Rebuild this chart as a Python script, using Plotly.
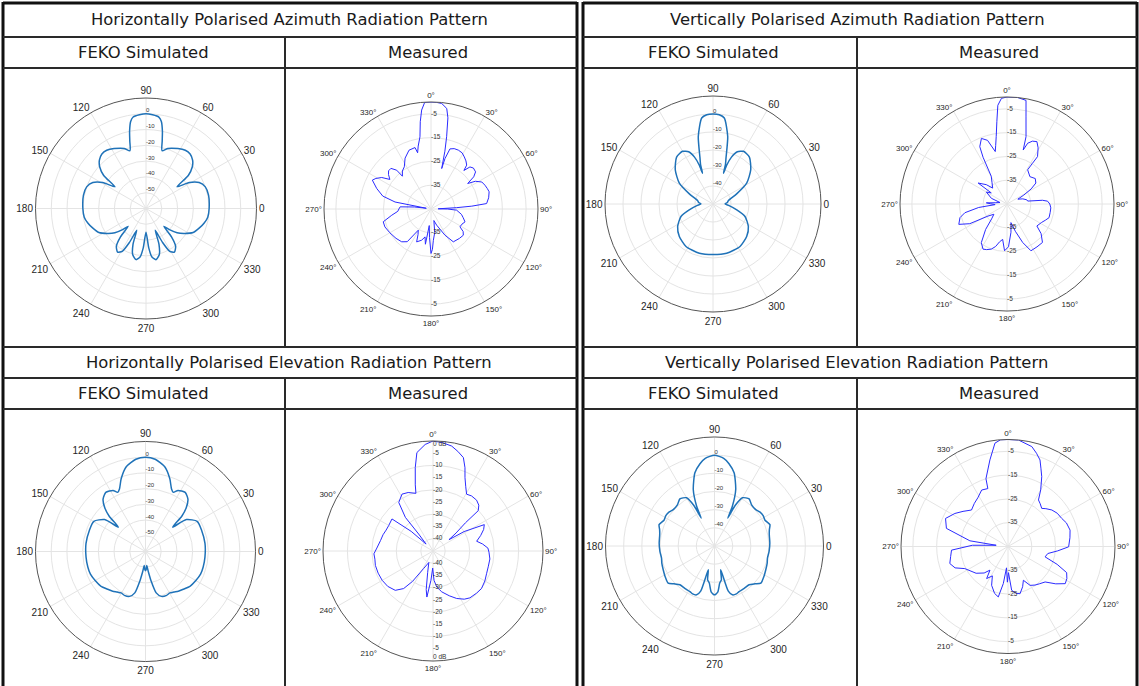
import plotly.graph_objects as go

W, H = 1139, 686

# ---------------- data (angles in degrees, levels in dB) ----------------
# FEKO simulated plots: standard orientation (0 deg at right, counter-clockwise)
feko_h_az_theta = [-90, -86, -83, -79, -74, -70, -67, -64, -61, -57, -52, -48, -45, -42, -38, -33, -27, -20, -14, -8,
                   0, 12, 20, 26, 31, 35, 38, 42, 46, 51, 56, 62, 70, 74.5, 76.5, 78, 80, 82, 86, 90,
                   94, 98, 100, 102, 103.5, 105.5, 110, 118, 124, 129, 134, 138, 142, 145, 149, 154, 160, 168,
                   180, 188, 194, 200, 207, 213, 218, 222, 225, 228, 232, 237, 241, 244, 247, 250, 254, 259, 263, 266, 270]
feko_h_az_db = [-45, -35, -29, -27, -29.5, -36, -45, -36, -29, -27, -29.5, -36, -44, -40, -35, -31, -26.5, -24, -22, -20.5,
                -20, -19.5, -20, -22.5, -28, -36, -26, -20.5, -17.5, -15.6, -15.5, -17, -19.5, -22, -16, -10, -4, -1.5, -0.5, 0,
                -0.5, -1.5, -4, -10, -16, -22, -19.5, -17, -15.5, -15.6, -17.5, -20.5, -26, -36, -28, -22.5, -20, -19.5,
                -20, -20.5, -22, -24, -26.5, -31, -35, -40, -44, -36, -29.5, -27, -29, -36, -45, -36, -29.5, -27, -29, -35, -45]

feko_v_az_theta = [-90, -74.5, -57.6, -44, -32.5, -21.3, -13.8, -6, 0, 6, 12.9, 23.2, 31.7, 42.2, 52.2, 60, 65, 68.5,
                   70.5, 71.2, 72.5, 74.2, 77.7, 82.5, 86, 90,
                   94, 97.5, 102.3, 105.8, 107.5, 108.8, 109.5, 111.5, 115, 120, 127.8, 137.8, 148.3, 156.8, 167.1,
                   174, 180, 186, 193.8, 201.3, 212.5, 224, 237.6, 254.5, 270]
feko_v_az_db = [-21.9, -21.6, -22, -24, -26.7, -30.9, -36.4, -41, -43.3, -42, -41.2, -35.7, -28, -21.7, -17, -16.2, -18, -22,
                -27, -32, -27, -23.5, -11.6, -1.8, -0.3, 0,
                -0.3, -1.8, -11.6, -23.5, -27, -32, -27, -22, -18, -16.2, -17, -21.7, -28, -35.7, -41.2,
                -42, -43.3, -41, -36.4, -30.9, -26.7, -24, -22, -21.6, -21.9]

feko_h_el_theta = [-90, -88, -85, -82, -79.2, -75.5, -70.5, -65, -59.5, -55, -50.4, -45, -37.7, -30, -22.4, -15, -5.4,
                   7.7, 21.1, 30.3, 38, 42, 44.2, 47, 51, 56.1, 62, 64.8, 67.4, 71.5, 77.2, 84, 90,
                   96, 102.8, 108.5, 112.6, 115.2, 118, 123.9, 129, 133, 135.8, 138, 142, 149.7, 158.9, 172.3,
                   185.4, 195, 202.4, 210, 217.7, 225, 230.4, 235, 239.5, 245, 250.5, 255.5, 259.2, 262, 265, 268, 270]
feko_h_el_db = [-47.7, -48.5, -51, -47, -40.9, -32.8, -29.7, -29, -29.4, -28.5, -27.2, -26, -24, -23, -22.1, -22, -22,
                -21.8, -21.8, -21.9, -27, -36.8, -27.8, -22, -17.1, -14.7, -16, -18.4, -16.9, -11.2, -4.7, -1, 0,
                -1, -4.7, -11.2, -16.9, -18.4, -16, -14.7, -17.1, -22, -27.8, -36.8, -27, -21.9, -21.8, -21.8,
                -22, -22, -22.1, -23, -24, -26, -27.2, -28.5, -29.4, -29, -29.7, -32.8, -40.9, -47, -51, -48.5, -47.7]

feko_v_el_theta = [-90, -86, -82, -78.5, -75.4, -73, -69.9, -65.5, -61.6, -55, -48.3, -43, -38.7, -32, -24.8, -18, -12.8,
                   -5.6, 3.1, 11.7, 16.5, 21.1, 27, 32, 37, 41.4, 48, 53.7, 59.9, 63, 64.5, 65.8, 69.4, 75, 80, 84, 90,
                   96, 100, 105, 110.6, 114.2, 115.5, 117, 120.1, 126.3, 132, 138.6, 143, 148, 153, 158.9, 163.5,
                   168.3, 176.9, 185.6, 192.8, 198, 204.8, 212, 218.7, 223, 228.3, 235, 241.6, 245.5, 249.9, 253,
                   255.4, 258.5, 262, 266, 270]
feko_v_el_db = [-23.1, -24.5, -29.4, -31, -36.5, -24, -21.4, -21, -21.5, -21.5, -21.4, -19.5, -17.3, -18, -18.9, -19.5, -20.1,
                -19.8, -19.5, -19.2, -18.5, -17.3, -18.8, -18.4, -18.8, -19.7, -19.5, -17.8, -19.3, -25, -33, -26, -16.8, -8.3, -4, -1.5, 0,
                -1.5, -4, -8.3, -16.8, -26, -33, -25, -19.3, -17.8, -19.5, -19.7, -18.8, -18.4, -18.8, -17.3, -18.5,
                -19.2, -19.5, -19.8, -20.1, -19.5, -18.9, -18, -17.3, -19.5, -21.4, -21.5, -21.5, -21, -21.4, -24,
                -36.5, -31, -29.4, -24.5, -23.1]

# Measured plots: compass orientation (0 deg at top, clockwise)
meas_h_az_theta = [0, 3, 5.8, 8.9, 10.5, 12.2, 13.5, 14.8, 15.5, 17.5, 21, 24.9, 29, 32.6, 36, 39.1, 40.5, 42.8, 46, 50.2,
                   53, 55.2, 58, 62, 66.2, 70, 73.5, 79, 84.4, 86, 87, 88.5, 90, 92.6, 100, 105, 110.7, 116, 121.6, 125,
                   129, 136, 145.8, 151.9, 160.7, 166, 171, 175.7, 178, 180, 183, 186, 189, 192, 196.7, 203.6, 207,
                   211, 216, 221.8, 230, 240, 248.8, 255, 261, 266, 270, 274, 277, 279, 281, 285, 290.7, 296.2, 299,
                   302.6, 305.7, 309, 312, 315.4, 318.5, 318.9, 323, 327.7, 333, 339.5, 345.4, 346.6, 348.5, 351.3,
                   353, 354.6, 356.6, 360]
meas_h_az_db = [0, -0.1, -0.4, -2.2, -6, -13.9, -20, -27.4, -23, -18.5, -17.8, -17.7, -18, -19, -20, -21.2, -23.7, -20.9, -20.2, -20.6,
                -22.5, -26.2, -23, -20.8, -20.2, -19.8, -19.5, -20.3, -21.5, -27.8, -34.2, -42, -38, -34.2, -32, -31, -29.7, -30.5, -30.7, -28.5,
                -27.5, -27.8, -28.3, -32.5, -37.8, -40, -35, -31.8, -28, -26.3, -33, -38, -30, -33, -31.3, -29.9, -33,
                -34.6, -28, -26.5, -25.8, -25, -24.2, -24.2, -28.3, -31, -31.5, -32, -38, -43, -29.6, -24, -20.6, -17.5, -18.5,
                -20.4, -23.7, -22, -21, -21, -23.2, -26.7, -25, -24, -21, -18.6, -18.3, -20.7, -18, -14.3,
                -8, -3.2, -0.1, 0]

meas_v_az_theta = [0, 5.8, 10.4, 12.3, 15.8, 16.7, 18.8, 22, 25.6, 29, 32.8, 32, 31.1, 40, 48, 54, 58, 62, 66, 72, 78, 82,
                   84, 86, 90, 95, 101, 108, 113, 118, 126.3, 131, 137.3, 145, 152.9, 157.8, 163, 168, 172, 178, 183,
                   187, 191.1, 195, 199.2, 204, 208, 213.6, 220, 226, 232, 237.6, 242.1, 247.1, 253.8, 258.3, 263, 267,
                   271, 273.2, 276, 282, 290, 300, 305.2, 306, 313.1, 318, 325, 330.4, 332.9, 334.6, 338.7, 343, 347.4,
                   349, 350.9, 353, 354.7, 357, 360]
meas_v_az_db = [0, 0, -0.7, -7.5, -15.6, -21.3, -18, -16.5, -15.9, -18, -21.3, -25, -28.2, -30, -29, -30, -33, -37, -40, -38, -36.5, -36.2,
                -30, -27.9, -27, -26.5, -26.5, -26.4, -27.5, -28.5, -29.4, -26, -23, -23, -22.9, -27.5, -33, -37, -33, -27, -25.3,
                -30, -28.8, -26.5, -24.9, -24, -23.5, -25.5, -31, -36, -38, -35.5, -27.3, -23, -24.4, -26.9, -33, -40,
                -38, -36.3, -40, -42, -38, -35, -36.9, -30, -33.1, -36, -34, -31.6, -22.9, -18.3, -15.4, -17, -22.4,
                -20, -16.3, -10, -3.3, -0.5, 0]

meas_h_el_theta = [0, 5, 10.1, 14, 18, 21, 23.5, 27, 30.6, 35, 40.6, 45, 48.3, 49, 52, 54.7, 58, 62.8, 67, 72, 77.4, 82,
                   87, 91.2, 98, 106, 113, 120, 127.8, 134, 141.8, 147, 153.5, 160, 167.9, 174, 178, 181, 184, 187.6,
                   190, 194, 200, 208, 214, 218, 223.8, 232, 240, 248, 256, 262, 267.3, 273, 281.2, 288, 294, 299.8,
                   308, 312, 315, 319.8, 320.6, 324.8, 331.4, 337, 343.5, 345, 348, 350.7, 355.8, 360]
meas_h_el_db = [0, -0.5, -1.4, -3, -4.8, -8.5, -12.2, -15.5, -18, -17.5, -17.6, -18.5, -20.2, -27.4, -33, -37, -30, -21.4, -22.5, -24.5, -26.7, -24.5,
                -22.5, -22.1, -21.5, -21.5, -21.2, -20.5, -19.9, -20.2, -20.6, -21.5, -23.3, -25.5, -27.9, -30.2, -33, -38, -33, -26,
                -29, -36, -40, -37, -30, -25.5, -22.7, -21.5, -21, -20.8, -20.7, -21, -20.8, -22, -23.1, -23.5, -24, -24.1,
                -23.7, -33, -41, -35.9, -27.2, -20.7, -18.5, -19, -20.4, -17, -10.1, -4.2, -1.3, 0]

meas_v_el_theta = [0, 5.6, 13.4, 17, 20.3, 23, 25.8, 30, 33.2, 37, 41.5, 45, 50.2, 56, 62.4, 68, 75.2, 82, 90.3, 95, 100,
                   105.6, 110, 114, 118.6, 123, 128, 133.7, 140, 145, 150.4, 155.5, 160, 165.7, 170, 175.2, 179, 181,
                   184, 187.2, 190.9, 196, 202.9, 208, 213.7, 217.3, 222, 230, 242.9, 248, 253.7, 260, 266.3, 272, 276,
                   278.5, 286.4, 294.2, 301.9, 308, 315, 322, 328.2, 335, 340.8, 342, 348.2, 352.8, 356, 360]
meas_v_el_db = [0, 0, -1.8, -4, -6.2, -9.5, -12.4, -17.5, -21.6, -22.5, -23.6, -22.5, -21, -20, -19.5, -18.5, -18, -18.7, -19.5, -24, -28,
                -28.8, -23, -18, -16.8, -16.3, -19.5, -23.4, -24.5, -25.2, -26.2, -29.4, -27, -24.5, -25, -26.5, -34, -30,
                -36, -29.3, -23.4, -24.5, -27.3, -31, -28.8, -32.5, -30, -27.5, -24.6, -21, -19.5, -20.5, -21.2, -30, -40,
                -28.8, -18, -16.2, -18.7, -21, -23.3, -22, -20.9, -18.8, -19.2, -15, -7.8, -1.2, 0, 0]

# tick labels
feko60_ticks = [0, -10, -20, -30, -40, -50]
feko50_ticks = [0, -10, -20, -30, -40]
meas_ticks = [-5, -15, -25, -35]
meas_el_ticks = [0, -5, -10, -15, -20, -25, -30, -35, -40]
feko_angles = list(range(0, 360, 30))

# header texts
titles = ["Horizontally Polarised Azimuth Radiation Pattern", "Vertically Polarised Azimuth Radiation Pattern",
          "Horizontally Polarised Elevation Radiation Pattern", "Vertically Polarised Elevation Radiation Pattern"]
col_heads = ["FEKO Simulated", "Measured"]

# ---------------- figure ----------------
FEKO_BLUE = "#1f72b8"
MEAS_BLUE = "#2b2bff"
GRID = "#e4e4e4"
EDGE = "#555555"
LBL_FONT = "Liberation Sans, Arial, sans-serif"


def dom(cx, cy, rad):
    return dict(x=[(cx - rad) / W, (cx + rad) / W], y=[1 - (cy + rad) / H, 1 - (cy - rad) / H])


def feko_polar(cx, cy, rad, rng, ticks):
    return dict(
        domain=dom(cx, cy, rad), bgcolor="white",
        angularaxis=dict(rotation=0, direction="counterclockwise", tickvals=feko_angles,
                         ticktext=[str(a) for a in feko_angles], showline=True, linecolor=EDGE, linewidth=1,
                         gridcolor=GRID, gridwidth=1, ticks="",
                         tickfont=dict(family=LBL_FONT, size=10, color="#262626")),
        radialaxis=dict(range=rng, tickvals=ticks, showticklabels=False, showline=False, ticks="",
                        gridcolor=GRID, gridwidth=1),
    )


def meas_polar(cx, cy, rad, ticks):
    return dict(
        domain=dom(cx, cy, rad), bgcolor="white",
        angularaxis=dict(rotation=90, direction="clockwise", tickvals=feko_angles,
                         ticktext=[f"{a}\u00b0" for a in feko_angles], showline=True, linecolor=EDGE, linewidth=1,
                         gridcolor=GRID, gridwidth=1, ticks="",
                         tickfont=dict(family=LBL_FONT, size=8, color="#262626")),
        radialaxis=dict(range=[-45, 0], tickvals=ticks, showticklabels=False, showline=False, ticks="",
                        gridcolor=GRID, gridwidth=1),
    )


fig = go.Figure()


def curve(theta, r, sub, color, width, spline):
    fig.add_trace(go.Scatterpolar(theta=theta, r=r, mode="lines", subplot=sub, showlegend=False, hoverinfo="skip",
                                  line=dict(color=color, width=width, shape="spline" if spline else "linear",
                                            smoothing=0.6 if spline else 0)))


def labels(vals, texts, theta, sub, size, pos):
    fig.add_trace(go.Scatterpolar(r=vals, theta=[theta] * len(vals), text=texts, mode="text", subplot=sub,
                                  textposition=pos, cliponaxis=False, showlegend=False, hoverinfo="skip",
                                  textfont=dict(family=LBL_FONT, size=size, color="#333333")))


curve(feko_h_az_theta, feko_h_az_db, "polar", FEKO_BLUE, 1.5, True)
labels(feko60_ticks, [str(v) for v in feko60_ticks], 90, "polar", 6, "top right")

curve(meas_h_az_theta, meas_h_az_db, "polar2", MEAS_BLUE, 1, False)
labels(meas_ticks, [str(v) for v in meas_ticks], 0, "polar2", 6.5, "middle right")
labels(meas_ticks, [str(v) for v in meas_ticks], 180, "polar2", 6.5, "middle right")

curve(feko_v_az_theta, feko_v_az_db, "polar3", FEKO_BLUE, 1.5, True)
labels(feko50_ticks, [str(v) for v in feko50_ticks], 90, "polar3", 6, "top right")

curve(meas_v_az_theta, meas_v_az_db, "polar4", MEAS_BLUE, 1, False)
labels(meas_ticks, [str(v) for v in meas_ticks], 0, "polar4", 6.5, "middle right")
labels(meas_ticks, [str(v) for v in meas_ticks], 180, "polar4", 6.5, "middle right")

curve(feko_h_el_theta, feko_h_el_db, "polar5", FEKO_BLUE, 1.5, True)
labels(feko60_ticks, [str(v) for v in feko60_ticks], 90, "polar5", 6, "top right")

curve(meas_h_el_theta, meas_h_el_db, "polar6", MEAS_BLUE, 1, False)
el_txt = ["0 dB" if v == 0 else str(v) for v in meas_el_ticks]
labels(meas_el_ticks, el_txt, 0, "polar6", 6.5,
       ["bottom right" if v == 0 else "middle right" for v in meas_el_ticks])
labels(meas_el_ticks, el_txt, 180, "polar6", 6.5,
       ["top right" if v == 0 else "middle right" for v in meas_el_ticks])

curve(feko_v_el_theta, feko_v_el_db, "polar7", FEKO_BLUE, 1.5, True)
labels(feko50_ticks, [str(v) for v in feko50_ticks], 90, "polar7", 6, "top right")

curve(meas_v_el_theta, meas_v_el_db, "polar8", MEAS_BLUE, 1, False)
labels(meas_ticks, [str(v) for v in meas_ticks], 0, "polar8", 6.5, "middle right")
labels(meas_ticks, [str(v) for v in meas_ticks], 180, "polar8", 6.5, "middle right")

layout = dict(
    polar=feko_polar(146, 208.5, 110.5, [-60, 10], [-50, -40, -30, -20, -10, 0]),
    polar2=meas_polar(431, 209, 107, [-35, -25, -15, -5]),
    polar3=feko_polar(713, 204, 108, [-50, 10], [-40, -30, -20, -10, 0]),
    polar4=meas_polar(1007, 204, 107, [-35, -25, -15, -5]),
    polar5=feko_polar(145.5, 551.5, 110, [-60, 10], [-50, -40, -30, -20, -10, 0]),
    polar6=meas_polar(433, 551, 110, [-40, -30, -20, -10]),
    polar7=feko_polar(714.5, 546, 109, [-50, 10], [-40, -30, -20, -10, 0]),
    polar8=meas_polar(1008, 546.5, 107, [-35, -25, -15, -5]),
)
fig.update_layout(**layout)

# ---------------- table frame ----------------
shapes = []


def line(x0, y0, x1, y1, w, c):
    shapes.append(dict(type="line", xref="paper", yref="paper", x0=x0 / W, x1=x1 / W, y0=1 - y0 / H, y1=1 - y1 / H,
                       line=dict(color=c, width=w)))


for (xl, xm, xr) in [(3, 285, 577), (583, 857, 1137)]:
    line(xl, 3, xr, 3, 3, "#111111")
    line(xl, 2, xl, H, 3, "#111111")
    line(xr, 2, xr, H, 3, "#111111")
    for yy in [37, 68, 347, 378, 409]:
        line(xl, yy, xr, yy, 2, "#2a2a2a")
    line(xm, 37, xm, 347, 2, "#2a2a2a")
    line(xm, 378, xm, H, 2, "#2a2a2a")

annotations = []


def text(t, x, y, size=16.4):
    annotations.append(dict(text=t, x=x / W, y=1 - y / H, xref="paper", yref="paper", showarrow=False,
                            xanchor="center", yanchor="middle",
                            font=dict(family="DejaVu Sans, Verdana, sans-serif", size=size, color="#1a1a1a")))


text(titles[0], 289, 20)
text(titles[1], 857, 20)
text(titles[2], 289, 362)
text(titles[3], 856, 362)
for yy in [52, 393]:
    text(col_heads[0], 143, yy)
    text(col_heads[1], 428, yy)
    text(col_heads[0], 713, yy)
    text(col_heads[1], 999, yy)

fig.update_layout(width=W, height=H, margin=dict(l=0, r=0, t=0, b=0), paper_bgcolor="white",
                  plot_bgcolor="white", shapes=shapes, annotations=annotations, showlegend=False)

fig.write_html("out.html", config={"displayModeBar": False},
               post_script="document.body.style.margin='0';document.body.style.overflow='hidden';")
